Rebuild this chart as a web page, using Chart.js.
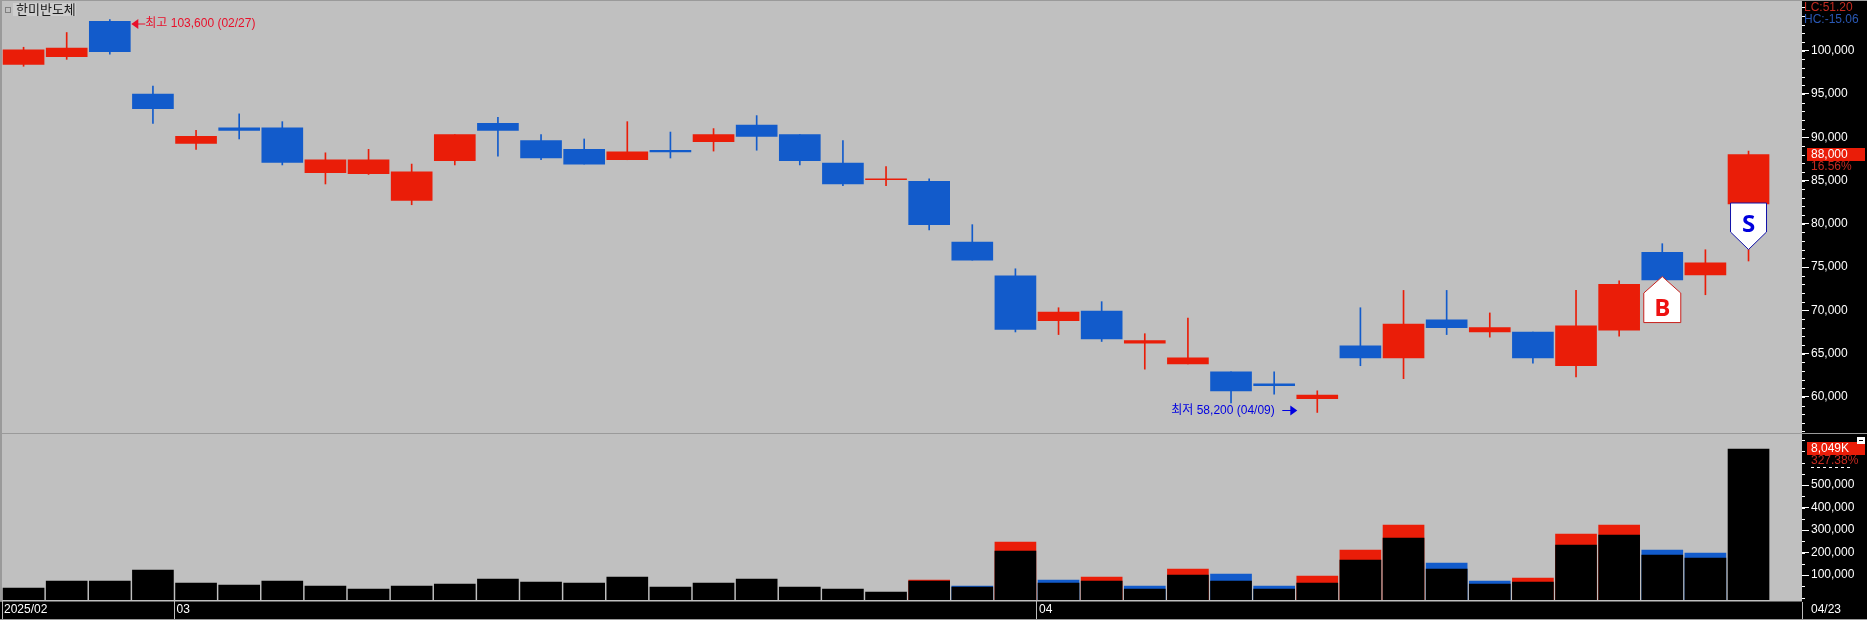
<!DOCTYPE html>
<html>
<head>
<meta charset="utf-8">
<title>한미반도체</title>
<script src="https://cdn.jsdelivr.net/npm/chart.js@4/dist/chart.umd.min.js"></script>
<style>
  html, body { margin: 0; padding: 0; background: #000; overflow: hidden; }
  canvas { display: block; }
</style>
</head>
<body>
<canvas id="stockChart" width="1867" height="620"></canvas>
<script>
const dates = ['02/25','02/26','02/27','02/28',
  '03/04','03/05','03/06','03/07','03/10','03/11','03/12','03/13','03/14','03/17','03/18','03/19','03/20','03/21','03/24','03/25','03/26','03/27','03/28','03/31',
  '04/01','04/02','04/03','04/04','04/07','04/08','04/09','04/10','04/11','04/14','04/15','04/16','04/17','04/18','04/21','04/22','04/23'];
const opens = [98400,99300,103400,95000,89300,91100,91100,85900,85800,82700,87300,91600,89600,88600,87400,88500,89500,91400,90300,87000,85100,84900,77900,74000,68800,69900,66200,63800,62900,61500,59800,65900,64500,68900,67500,67500,63600,67700,76700,74100,82300];
const highs = [100400,102100,103600,95900,90800,92700,91800,88200,88600,86900,90300,92300,90300,89800,91800,90600,91000,92500,90300,89600,86600,85200,79900,74800,70300,71000,67300,69100,62900,62900,60700,70300,72300,72300,69700,67500,72300,73400,77700,77000,88400];
const lows = [98200,99000,99600,91600,88600,89800,86800,84600,85700,82200,86800,87800,87400,86900,87400,87600,88400,88500,86800,84400,84400,79300,75800,67500,67200,66400,63200,63800,59300,60300,58200,63600,62100,67200,66900,63900,62300,67000,73500,71800,75700];
const closes = [100100,100300,99900,93300,90100,90800,87100,87400,87400,86000,90300,90800,87600,86900,88300,88300,90300,90100,87300,84600,85200,79900,75800,67800,69800,66700,66500,64500,60700,61300,60200,64500,68400,68000,68000,64500,68200,73000,73500,75500,88000];
const volumes = [42700,73800,73800,122700,64900,56000,73800,51500,38200,51500,60400,82700,69300,64900,91500,47100,64900,82700,47100,38200,24900,73800,47100,207100,64900,73800,38200,100400,73800,38200,64900,167100,264900,127100,60400,69300,233800,278200,189300,176000,660400];
const volumeRedTops = [null,null,null,null,null,null,null,null,null,null,null,null,null,null,null,null,null,null,null,null,null,78200,null,247100,null,91500,null,127100,null,null,96000,211500,322600,null,null,87100,282600,322600,null,null,null];
const volumeBlueTops = [null,null,null,null,null,null,null,null,null,null,null,null,null,null,null,null,null,null,null,null,null,null,51500,null,78200,null,51500,null,104900,51500,null,null,null,153800,73800,null,null,null,211500,198200,null];

const priceTicks = [60000,65000,70000,75000,80000,85000,90000,95000,100000];
const volumeTicks = [100000,200000,300000,400000,500000];
const monthStarts = [0,4,24];
const monthLabels = ['2025/02','03','04'];

const priceMin = 55825, priceMax = 105858;
const volumeMin = -10666, volumeMax = 731500;

const RED = '#EA1D08', BLUE = '#125BCB', GREY = '#C0C0C0', LINE = '#9A9A9A';
const FONT = '"Liberation Sans", "Noto Sans CJK KR", sans-serif';
const AXIS_FONT = { family: FONT, size: 12 };

function candleColor(i) { return closes[i] >= opens[i] ? RED : BLUE; }
function fmt(v) { return Number(v).toLocaleString('en-US'); }

// keep the axis column fixed and stop tick labels from pushing the plot inwards
function fitYAxis(s) {
  s.width = 65;
  s.paddingTop = 0;
  s.paddingBottom = 0;
}

function text(ctx, str, x, y, color, font) {
  ctx.font = font || ('12px ' + FONT);
  ctx.fillStyle = color;
  ctx.textAlign = 'left';
  ctx.textBaseline = 'middle';
  ctx.fillText(str, x, y);
}

const panelBackground = {
  id: 'panelBackground',
  beforeDraw(chart) {
    const { ctx, chartArea: a, scales } = chart;
    ctx.save();
    ctx.fillStyle = '#000';
    ctx.fillRect(0, 0, chart.width, chart.height);
    ctx.fillStyle = GREY;
    ctx.fillRect(0, 0, a.right, a.bottom + 1.5);
    ctx.fillStyle = LINE;
    ctx.fillRect(0, 0, 2, a.bottom + 1.5);
    ctx.fillRect(0, 0, chart.width, 1);
    ctx.fillRect(0, scales.yPrice.bottom, chart.width, 1);
    ctx.fillRect(0, 619, chart.width, 1);
    ctx.restore();
  }
};

const chartLabels = {
  id: 'chartLabels',
  afterDraw(chart) {
    const { ctx, chartArea: a, scales } = chart;
    const xs = scales.x, yp = scales.yPrice, yv = scales.yVolume;
    ctx.save();

    // minor axis marks
    ctx.fillStyle = '#fff';
    for (let v = 56000; v <= 105000; v += 1000) {
      ctx.fillRect(a.right, Math.round(yp.getPixelForValue(v)), 3, 1);
    }
    for (let v = 0; v <= 700000; v += 50000) {
      ctx.fillRect(a.right, Math.round(yv.getPixelForValue(v)), 3, 1);
    }

    // title
    ctx.fillStyle = '#CECECE';
    ctx.fillRect(13, 3, 63, 13);
    ctx.strokeStyle = '#808080';
    ctx.strokeRect(5.5, 7.5, 5, 5);
    text(ctx, '한미반도체', 16, 9.5, '#1c1c1c', '13px "Noto Sans CJK KR", sans-serif');

    // high marker
    const hiIdx = highs.indexOf(Math.max(...highs));
    const hiY = 24;
    const hiX = xs.getPixelForValue(hiIdx) + 21.5;
    ctx.fillStyle = '#E8102A';
    ctx.beginPath();
    ctx.moveTo(hiX, hiY); ctx.lineTo(hiX + 7, hiY - 5); ctx.lineTo(hiX + 7, hiY + 5); ctx.fill();
    ctx.fillRect(hiX + 6, hiY - 0.5, 8, 1);
    text(ctx, '최고 ' + fmt(highs[hiIdx]) + ' (' + dates[hiIdx] + ')', hiX + 14, hiY, '#E8102A', '12px ' + FONT);

    // low marker
    const loIdx = lows.indexOf(Math.min(...lows));
    const loY = 410.5;
    const loX = xs.getPixelForValue(loIdx) - 20;
    ctx.fillStyle = '#0000E0';
    ctx.beginPath();
    ctx.moveTo(loX, loY); ctx.lineTo(loX - 7, loY - 5); ctx.lineTo(loX - 7, loY + 5); ctx.fill();
    ctx.fillRect(loX - 15, loY - 0.5, 9, 1);
    text(ctx, '최저 ' + fmt(lows[loIdx]) + ' (' + dates[loIdx] + ')', loX - 126, loY, '#0000E0', '12px ' + FONT);

    // buy / sell signals
    const bx = xs.getPixelForValue(38), bTop = yp.getPixelForValue(73900);
    ctx.beginPath();
    ctx.moveTo(bx, bTop); ctx.lineTo(bx + 18.5, bTop + 16.5); ctx.lineTo(bx + 18.5, bTop + 46);
    ctx.lineTo(bx - 18.5, bTop + 46); ctx.lineTo(bx - 18.5, bTop + 16.5); ctx.closePath();
    ctx.fillStyle = '#fff'; ctx.fill();
    ctx.strokeStyle = '#C8201C'; ctx.lineWidth = 1; ctx.stroke();
    ctx.font = 'bold 24px "Open Sans", sans-serif';
    ctx.textAlign = 'center'; ctx.textBaseline = 'middle';
    ctx.fillStyle = '#EE1111';
    ctx.fillText('B', bx, bTop + 33);

    const sx = xs.getPixelForValue(40), sTop = yp.getPixelForValue(82400);
    ctx.beginPath();
    ctx.moveTo(sx - 18, sTop); ctx.lineTo(sx + 18, sTop); ctx.lineTo(sx + 18, sTop + 29);
    ctx.lineTo(sx, sTop + 46.5); ctx.lineTo(sx - 18, sTop + 29); ctx.closePath();
    ctx.fillStyle = '#fff'; ctx.fill();
    ctx.strokeStyle = '#1010A8'; ctx.stroke();
    ctx.fillStyle = '#0000DD';
    ctx.fillText('S', sx, sTop + 22);

    // right-hand readouts
    text(ctx, 'LC:51.20', 1804, 8, '#C42A20');
    text(ctx, 'HC:-15.06', 1804, 20, '#2A58B4');
    ctx.fillStyle = RED;
    ctx.fillRect(1807, 148, 58, 13);
    text(ctx, '88,000', 1811, 155, '#fff');
    text(ctx, '16.56%', 1811, 167, '#C42A20');
    ctx.fillStyle = RED;
    ctx.fillRect(1807, 442, 58, 13);
    text(ctx, '8,049K', 1811, 449, '#fff');
    text(ctx, '327.38%', 1811, 461, '#C42A20');
    ctx.strokeStyle = '#fff';
    ctx.setLineDash([3, 3]);
    ctx.beginPath(); ctx.moveTo(1811, 467.5); ctx.lineTo(1850, 467.5); ctx.stroke();
    ctx.setLineDash([]);
    ctx.fillStyle = '#fff';
    ctx.fillRect(1857, 437, 8, 7);
    ctx.fillStyle = '#000';
    ctx.fillRect(1859, 440, 4, 1);

    // last date, in the axis column
    ctx.fillStyle = '#bbb';
    ctx.fillRect(a.right, 602, 1, 17);
    text(ctx, dates[dates.length - 1], 1811, 610, '#fff');
    ctx.restore();
  }
};

new Chart(document.getElementById('stockChart'), {
  type: 'bar',
  data: {
    datasets: [
      {
        label: 'wick', yAxisID: 'yPrice', order: 2, barThickness: 1,
        data: dates.map((d, i) => ({ x: i, y: [lows[i], highs[i]] })),
        backgroundColor: dates.map((d, i) => candleColor(i))
      },
      {
        label: 'body', yAxisID: 'yPrice', order: 1, barThickness: 41,
        data: dates.map((d, i) => ({ x: i, y: [opens[i], closes[i]] })),
        backgroundColor: dates.map((d, i) => candleColor(i))
      },
      {
        label: 'volume', yAxisID: 'yVolume', order: 1, barThickness: 41, base: volumeMin,
        data: volumes.map((v, i) => ({ x: i, y: v })),
        backgroundColor: '#000'
      },
      {
        label: 'volume red', yAxisID: 'yVolume', order: 2, barThickness: 41, base: volumeMin,
        data: volumeRedTops.map((v, i) => ({ x: i, y: v })),
        backgroundColor: RED
      },
      {
        label: 'volume blue', yAxisID: 'yVolume', order: 2, barThickness: 41, base: volumeMin,
        data: volumeBlueTops.map((v, i) => ({ x: i, y: v })),
        backgroundColor: BLUE
      }
    ]
  },
  options: {
    responsive: false,
    animation: false,
    devicePixelRatio: 1,
    grouped: false,
    layout: { padding: { left: 2, top: 0, right: 0, bottom: 0 } },
    plugins: { legend: { display: false }, tooltip: { enabled: false } },
    scales: {
      x: {
        type: 'linear',
        offset: false,
        min: -0.5,
        max: 41.24,
        afterBuildTicks: s => { s.ticks = monthStarts.map(i => ({ value: i - 0.5 })); },
        afterFit: s => { s.height = 20; s.paddingLeft = 0; s.paddingRight = 0; },
        border: { display: false },
        grid: { offset: false, drawOnChartArea: false, color: '#bbb', tickLength: 19 },
        ticks: {
          autoSkip: false, maxRotation: 0, align: 'start', padding: -17, labelOffset: 2,
          color: '#fff', font: AXIS_FONT,
          callback: (v, i) => monthLabels[i]
        }
      },
      yPrice: {
        position: 'right', stack: 'panels', stackWeight: 433, weight: 0,
        min: priceMin, max: priceMax,
        afterBuildTicks: s => { s.ticks = priceTicks.map(v => ({ value: v })); },
        afterFit: fitYAxis,
        border: { display: false },
        grid: { drawOnChartArea: false, color: '#fff', tickLength: 7 },
        ticks: { autoSkip: false, padding: 2, color: '#fff', font: AXIS_FONT, callback: fmt }
      },
      yVolume: {
        position: 'right', stack: 'panels', stackWeight: 167, weight: 1,
        min: volumeMin, max: volumeMax,
        afterBuildTicks: s => { s.ticks = volumeTicks.map(v => ({ value: v })); },
        afterFit: fitYAxis,
        border: { display: false },
        grid: { drawOnChartArea: false, color: '#fff', tickLength: 7 },
        ticks: { autoSkip: false, padding: 2, color: '#fff', font: AXIS_FONT, callback: fmt }
      }
    }
  },
  plugins: [panelBackground, chartLabels]
});
</script>
</body>
</html>
